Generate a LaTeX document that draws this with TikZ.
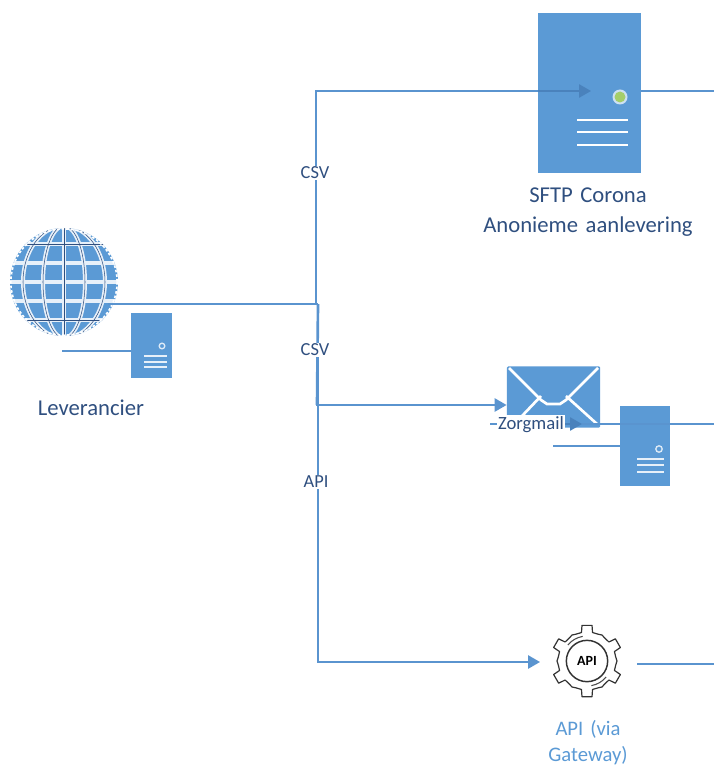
\documentclass[tikz,border=0pt]{standalone}
\usepackage{fontspec}
\setmainfont{Carlito}
\usetikzlibrary{arrows.meta}
\definecolor{iconblue}{HTML}{5B9AD5}
\definecolor{lineblue}{HTML}{5A94CF}
\definecolor{darkline}{HTML}{4A82BC}
\definecolor{textblue}{HTML}{2F4F7F}
\definecolor{ledgreen}{HTML}{A5CE6B}
\tikzset{
conn/.style = {draw=lineblue, line width=1.4pt},
arr/.style = {conn, -{Triangle[length=9pt,width=10pt]}},
arrin/.style = {draw=darkline, line width=1.2pt, -{Triangle[length=9pt,width=10pt]}},
server/.style = {draw=none, fill=iconblue, rectangle, inner sep=0pt},
envelope/.style = {draw=none, fill=iconblue, rectangle, inner sep=0pt, rounded corners=1pt},
globe/.style = {draw=none, fill=iconblue, circle, inner sep=0pt, minimum size=81pt},
lbl/.style = {text=textblue, font=\fontsize{17}{22}\selectfont, align=center, inner sep=1pt},
edgelbl/.style = {text=textblue, fill=white, font=\fontsize{13.8}{16}\selectfont, inner sep=1pt},
whiteln/.style = {draw=white, line width=2pt}
}
\begin{document}
\begin{tikzpicture}[x=0.75pt,y=-0.75pt]
\useasboundingbox (0,0) rectangle (714,766);
% icons
\node[globe,path picture={
  \foreach \yy in {-38,-19,0,19,38} {\draw[white!85!iconblue,line width=3pt] (-60,\yy) -- (60,\yy);}
  \foreach \rr in {21,41} {\draw[white!85!iconblue,line width=3pt] (0,0) ellipse [x radius=\rr,y radius=56];}
  \draw[white!85!iconblue,line width=3pt] (0,-56) -- (0,56);
  \foreach \rr in {21,41} {\draw[textblue,line width=0.4pt] (0,0) ellipse [x radius=\rr,y radius=56];}
  \draw[textblue,line width=0.4pt] (0,-56) -- (0,56);
  \foreach \yy in {-38,38} {\draw[textblue,line width=0.4pt] (-60,\yy) -- (60,\yy);}
  \draw[white,line width=2.5pt,dash pattern=on 2pt off 1.5pt] (0,0) circle [radius=54];
}] (globe) at (64,282) {};
\node[server,minimum width=77.5pt,minimum height=120pt] (sftp) at (589.5,93) {};
\node[server,minimum width=31pt,minimum height=49pt] (srvleft) at (151.5,345.5) {};
\node[server,minimum width=37.5pt,minimum height=60pt] (srvright) at (645,446) {};
\node[envelope,minimum width=70pt,minimum height=46pt] (mail) at (553.5,397) {};
\node[draw=black!80,circle,line width=1.1pt,minimum size=31pt,inner sep=0pt,font=\fontsize{10.5}{12}\selectfont\bfseries] (gw) at (587,661) {API};
% server details
\fill[white!70!iconblue] (620,97) circle (7.5);
\fill[ledgreen] (620,97) circle (5.5);
\foreach \yy in {120,132,145} {\draw[whiteln] (577,\yy) -- (628,\yy);}
\draw[white!80!iconblue,line width=1pt] (162,346) circle (2.8);
\foreach \yy in {356,362,367} {\draw[white!85!iconblue,line width=2pt] (144,\yy) -- (167,\yy);}
\draw[white!80!iconblue,line width=1pt] (659,449) circle (3.2);
\foreach \yy in {459,465,472} {\draw[white!85!iconblue,line width=2pt] (637,\yy) -- (664,\yy);}
% envelope flap
\draw[whiteln] (509,368) -- (541,400) -- (547,404) -- (560,404) -- (566,400) -- (598,368);
\draw[whiteln] (541,396) -- (522,416);
\draw[whiteln] (566,396) -- (597,424);
% gear
\begin{scope}[shift={(gw.center)}]
\draw[black!80,line width=0.9pt,line join=round]
  \foreach \aa in {30,90,...,330} {
    (\aa-30+8:29) -- (\aa-11:29) -- (\aa-8:36) -- (\aa+8:36) -- (\aa+11:29) -- (\aa+30-8:29)
    -- (\aa+30:30) -- (\aa+30+8:29)
  };
\draw[black!70,line width=0.8pt] (40:25) arc (40:80:25);
\draw[black!70,line width=0.8pt] (220:25) arc (220:260:25);
\end{scope}
% connectors
\coordinate (trunktop) at (316,91);
\coordinate (trunkbot) at (318,662);
\coordinate (sftpin) at (591,91);
\coordinate (sftpout) at (714,91);
\coordinate (globeout) at (108,304);
\coordinate (trunkjoin) at (318,304);
\coordinate (mailbend) at (316,405);
\coordinate (gwin) at (540,662);
\coordinate (gwstart) at (637,664);
\coordinate (gwout) at (714,664);
\coordinate (mailstart) at (490,424);
\coordinate (mailin) at (582,424);
\coordinate (mailout) at (714,424);
\coordinate (leftstub) at (62,351);
\coordinate (rightstub) at (553,446);
\draw[conn] (sftp.west|-trunktop) -- (trunktop) -- (316,304);
\draw[arrin] (sftp.west|-trunktop) -- (sftpin);
\draw[conn] (sftp.east|-trunktop) -- (sftpout);
\draw[conn] (globeout) -- (trunkjoin);
\draw[conn,line width=2pt] (trunkjoin) -- (317,405);
\draw[arr] (mailbend) -- (mail.west|-mailbend);
\draw[arr] (trunkjoin) -- (trunkbot) -- (gwin);
\draw[conn] (gwstart) -- (gwout);
\draw[conn] (leftstub) -- (srvleft.west|-leftstub);
\draw[conn] (rightstub) -- (srvright.west|-rightstub);
\draw[conn] (mail.east|-mailout) -- (mailout);
% labels
\node[edgelbl] (csvone) at (315,173) {CSV};
\node[edgelbl] (csvtwo) at (315,350) {CSV};
\node[edgelbl] (apilbl) at (316,482) {API};
\node[text=textblue,fill=white,font=\fontsize{14}{16}\selectfont,inner sep=0.5pt,minimum width=51pt,minimum height=15pt] (zorg) at (531,425) {Zorgmail};
\draw[conn] (mailstart) -- (zorg.west|-mailstart);
\draw[arrin] (zorg.east|-mailstart) -- (mailin);
\draw[conn] (mailin) -- (mail.east|-mailout);
\node[lbl] (lev) at (91,408) {Leverancier};
\node[lbl,text width=200pt] (sftplbl) at (588,212) {SFTP Corona\\Anonieme aanlevering};
\node[lbl,text=iconblue,font=\fontsize{15.5}{19.5}\selectfont,text width=90pt] (gwlbl) at (588,743) {API (via\\Gateway)};
\end{tikzpicture}
\end{document}
